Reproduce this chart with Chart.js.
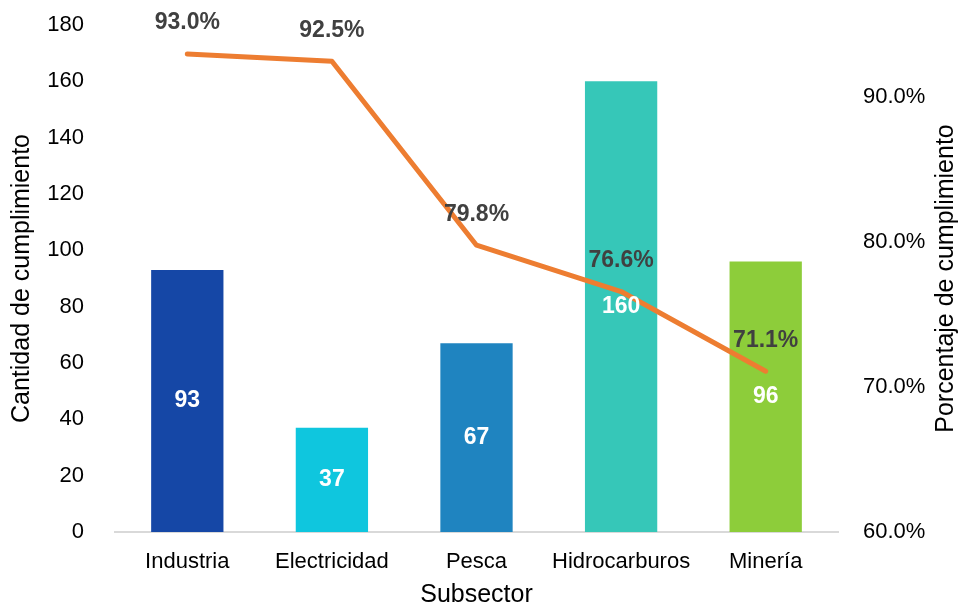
<!DOCTYPE html>
<html>
<head>
<meta charset="utf-8">
<script src="https://cdn.jsdelivr.net/npm/chart.js@4.4.1/dist/chart.umd.min.js"></script>
<style>
  html, body { margin: 0; padding: 0; background: #fff; }
  #wrap { width: 959px; height: 605px; }
</style>
</head>
<body>
<div id="wrap"><canvas id="chart"></canvas></div>
<script>
// Data
const categories = ['Industria', 'Electricidad', 'Pesca', 'Hidrocarburos', 'Minería'];
const cantidad = [93, 37, 67, 160, 96];
const porcentaje = [93.0, 92.5, 79.8, 76.6, 71.1];
const barColors = ['#1547a6', '#0fc6de', '#1f84c0', '#36c7b8', '#8dcd3a'];
const leftTicks = [0, 20, 40, 60, 80, 100, 120, 140, 160, 180];
const rightTicks = [60, 70, 80, 90];

const FONT = "'Liberation Sans', Arial, sans-serif";

// Value labels on bars and line points, plus the right axis title (reads bottom-to-top)
const valueLabels = {
    id: 'valueLabels',
    afterDatasetsDraw(chart) {
        const ctx = chart.ctx;
        ctx.save();
        ctx.font = 'bold 23px ' + FONT;
        ctx.textAlign = 'center';
        ctx.textBaseline = 'middle';

        const bars = chart.getDatasetMeta(0).data;
        bars.forEach((bar, i) => {
            ctx.fillStyle = '#ffffff';
            ctx.fillText(cantidad[i], bar.x, (bar.y + bar.base) / 2);
        });

        const points = chart.getDatasetMeta(1).data;
        points.forEach((pt, i) => {
            ctx.fillStyle = '#404040';
            ctx.fillText(porcentaje[i].toFixed(1) + '%', pt.x, pt.y - 31);
        });

        const area = chart.chartArea;
        ctx.translate(946, (area.top + area.bottom) / 2);
        ctx.rotate(-Math.PI / 2);
        ctx.font = '25px ' + FONT;
        ctx.fillStyle = '#000';
        ctx.fillText('Porcentaje de cumplimiento', 0, 0);
        ctx.restore();
    }
};

function fixVertical(width) {
    return function(scale) {
        scale.width = width;
        scale.paddingTop = 0;
        scale.paddingBottom = 0;
    };
}

const ctx = document.getElementById('chart');
new Chart(ctx, {
    type: 'bar',
    data: {
        labels: categories,
        datasets: [{
            label: 'Cantidad de cumplimiento',
            data: cantidad,
            yAxisID: 'y',
            backgroundColor: barColors,
            barPercentage: 0.5,
            categoryPercentage: 1,
            order: 2
        }, {
            type: 'line',
            label: 'Porcentaje de cumplimiento',
            data: porcentaje,
            yAxisID: 'y1',
            borderColor: '#ed7d31',
            borderWidth: 5,
            borderCapStyle: 'round',
            borderJoinStyle: 'round',
            pointRadius: 0,
            tension: 0,
            order: 1
        }]
    },
    options: {
        responsive: true,
        maintainAspectRatio: false,
        animation: false,
        layout: { padding: { top: 25, left: 0, right: 0, bottom: 0 } },
        plugins: {
            legend: { display: false },
            tooltip: { enabled: false }
        },
        scales: {
            x: {
                grid: { display: false },
                border: { display: true, color: '#d9d9d9', width: 2 },
                ticks: { color: '#000', font: { family: FONT, size: 22 }, padding: 9 },
                title: { display: true, text: 'Subsector', color: '#000', font: { family: FONT, size: 25 }, padding: { top: 0, bottom: -5 } },
                afterFit(scale) { scale.height = 73; }
            },
            y: {
                position: 'left',
                min: 0,
                max: 180,
                grid: { display: false },
                border: { display: false },
                afterBuildTicks(scale) { scale.ticks = leftTicks.map(v => ({ value: v })); },
                ticks: { color: '#000', font: { family: FONT, size: 22 }, padding: 23 },
                title: { display: true, text: 'Cantidad de cumplimiento', color: '#000', font: { family: FONT, size: 25 }, padding: { top: 7, bottom: 0 } },
                afterFit: fixVertical(115)
            },
            y1: {
                position: 'right',
                min: 60,
                max: 95,
                grid: { display: false },
                border: { display: false },
                afterBuildTicks(scale) { scale.ticks = rightTicks.map(v => ({ value: v })); },
                ticks: {
                    color: '#000',
                    font: { family: FONT, size: 22 },
                    padding: 17,
                    callback: v => v.toFixed(1) + '%'
                },
                afterFit: fixVertical(121)
            }
        }
    },
    plugins: [valueLabels]
});
</script>
</body>
</html>
